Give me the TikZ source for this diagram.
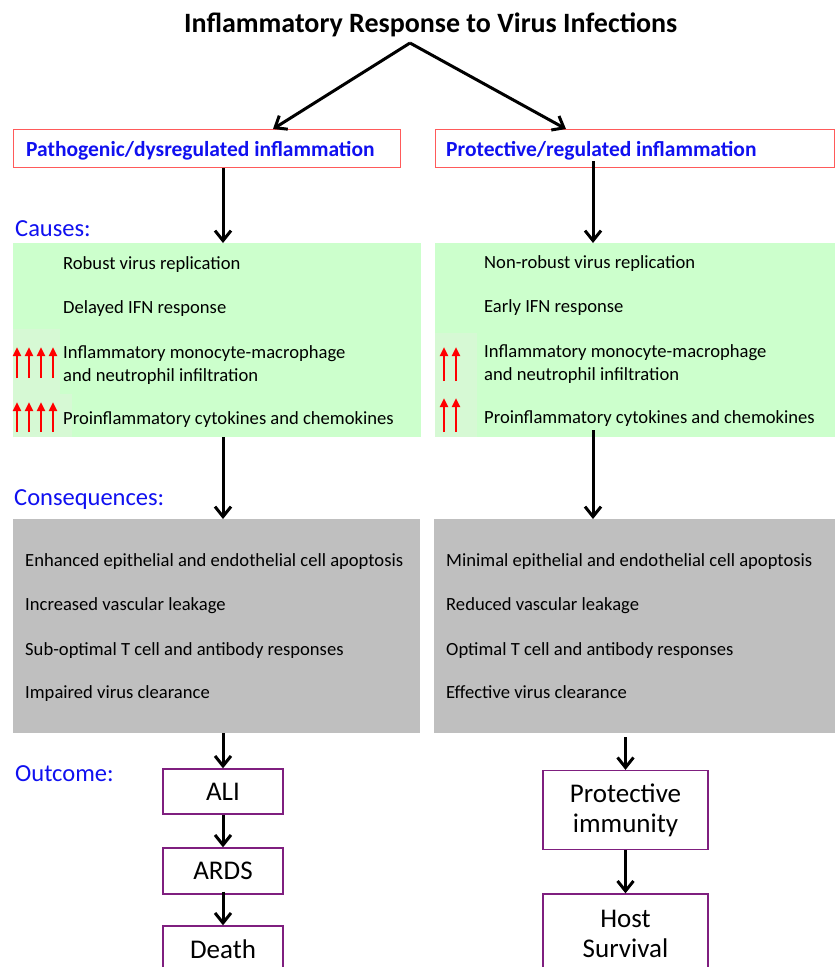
\documentclass[tikz,border=0pt]{standalone}
\usepackage{fontspec}
\setmainfont{Carlito}
\usetikzlibrary{arrows.meta,calc}
\definecolor{redline}{HTML}{FF5A5A}
\definecolor{causegreen}{HTML}{CCFFCC}
\definecolor{patchgreen}{HTML}{D6F9D4}
\definecolor{consgrey}{HTML}{BFBFBF}
\definecolor{outline}{HTML}{7F1F7F}
\definecolor{headblue}{HTML}{1010F0}
\tikzset{
	flow/.style={line width=3pt, -{Straight Barb[length=10pt,width=16pt]}},
	upmark/.style={red, line width=2.4pt, -{Triangle[length=9pt,width=8pt]}},
	headbox/.style={draw=redline, line width=1.3pt, anchor=north west, inner sep=0pt, minimum height=38pt},
	headtext/.style={anchor=base west, inner sep=0pt, text=headblue, font=\fontsize{21.5}{26}\selectfont\bfseries},
	seclabel/.style={anchor=base west, inner sep=0pt, text=headblue, font=\fontsize{24.5}{29}\selectfont},
	itemtext/.style={anchor=base west, inner sep=0pt, font=\fontsize{18.6}{24}\selectfont},
	causebox/.style={fill=causegreen, anchor=north west, inner sep=0pt, minimum height=194pt},
	consbox/.style={fill=consgrey, anchor=north west, inner sep=0pt, minimum height=214pt},
	outbox/.style={draw=outline, line width=1.3pt, inner sep=0pt, align=center, font=\fontsize{27}{30}\selectfont},
}
\begin{document}
\begin{tikzpicture}[x=1pt, y=-1pt]
		\clip (0,0) rectangle (835,967);
		\fill[white] (0,0) rectangle (835,967);
		\node[anchor=base west, inner sep=0pt, font=\fontsize{28}{34}\selectfont\bfseries] (title) at (184,32) {Inflammatory Response to Virus Infections};
		\coordinate (apex) at (410,43);
		\coordinate (lt) at (273,0);
		\coordinate (rt) at (566,0);
		\coordinate (lx) at (223,0);
		\coordinate (rx) at (593,0);
		%
		\node[headbox, minimum width=387pt] (patho) at (13,129) {};
		\node[headtext] (pathotext) at (26,156) {Pathogenic/dysregulated inflammation};
		\node[headbox, minimum width=399pt] (prot) at (435,129) {};
		\node[headtext] (prottext) at (446,156) {Protective/regulated inflammation};
		\draw[flow] (apex) -- (patho.north -| lt);
		\draw[flow] (apex) -- (prot.north -| rt);
		%
		\node[seclabel] (causes) at (15,236) {Causes:};
		\node[causebox, minimum width=408pt] (causeL) at (13,243) {};
		\node[causebox, minimum width=400pt] (causeR) at (435,243) {};
		\fill[patchgreen] (13,329) rectangle (60,394);
		\fill[patchgreen] (13,394) rectangle (72,437);
		\fill[patchgreen] (435,333) rectangle (477,437);
		\foreach \x in {17,29,41,53} {
			\draw[upmark] (\x,378) -- (\x,347);
			\draw[upmark] (\x,432) -- (\x,402);
		}
		\foreach \x in {444,456} {
			\draw[upmark] (\x,381) -- (\x,347);
			\draw[upmark] (\x,432) -- (\x,398);
		}
		\node[itemtext] (cl1) at (63,269) {Robust virus replication};
		\node[itemtext] (cl2) at (63,313) {Delayed IFN response};
		\node[itemtext] (cl3) at (63,358) {Inflammatory monocyte-macrophage};
		\node[itemtext] (cl4) at (63,381) {and neutrophil infiltration};
		\node[itemtext] (cl5) at (63,424) {Proinflammatory cytokines and chemokines};
		\node[itemtext] (cr1) at (484,268) {Non-robust virus replication};
		\node[itemtext] (cr2) at (484,312) {Early IFN response};
		\node[itemtext] (cr3) at (484,357) {Inflammatory monocyte-macrophage};
		\node[itemtext] (cr4) at (484,380) {and neutrophil infiltration};
		\node[itemtext] (cr5) at (484,423) {Proinflammatory cytokines and chemokines};
		\draw[flow] (patho.south -| lx) -- (causeL.north -| lx);
		\draw[flow] ($(prot.south -| rx)+(0,-7)$) -- (causeR.north -| rx);
		%
		\node[seclabel] (consequences) at (14,505) {Consequences:};
		\node[consbox, minimum width=407pt] (consL) at (13,519) {};
		\node[consbox, minimum width=401pt] (consR) at (434,519) {};
		\node[itemtext] (ql1) at (25,566) {Enhanced epithelial and endothelial cell apoptosis};
		\node[itemtext] (ql2) at (25,610) {Increased vascular leakage};
		\node[itemtext] (ql3) at (25,655) {Sub-optimal T cell and antibody responses};
		\node[itemtext] (ql4) at (25,698) {Impaired virus clearance};
		\node[itemtext] (qr1) at (446,566) {Minimal epithelial and endothelial cell apoptosis};
		\node[itemtext] (qr2) at (446,610) {Reduced vascular leakage};
		\node[itemtext] (qr3) at (446,655) {Optimal T cell and antibody responses};
		\node[itemtext] (qr4) at (446,698) {Effective virus clearance};
		\draw[flow] (causeL.south -| lx) -- (consL.north -| lx);
		\draw[flow] ($(causeR.south -| rx)+(0,-7)$) -- (consR.north -| rx);
		%
		\node[seclabel] (outcome) at (15,781) {Outcome:};
		\node[outbox, minimum width=120pt, minimum height=45pt] (ali) at (223,791.5) {ALI};
		\node[outbox, minimum width=120pt, minimum height=46pt] (ards) at (223,871) {ARDS};
		\node[outbox, minimum width=120pt, minimum height=47pt] (death) at (223,949.5) {Death};
		\node[outbox, minimum width=165pt, minimum height=79pt] (immun) at (625.5,810) {Protective\\immunity};
		\node[outbox, minimum width=165pt, minimum height=79pt] (host) at (625.5,933.5) {Host\\Survival};
		\draw[flow] (consL.south -| ali.north) -- (ali.north);
		\draw[flow] (ali.south) -- (ards.north);
		\draw[flow] ($(ards.south)+(0,-3)$) -- (death.north);
		\draw[flow] ($(consR.south -| immun.north)+(0,4)$) -- (immun.north);
		\draw[flow] (immun.south) -- (host.north);
	\end{tikzpicture}
\end{document}
